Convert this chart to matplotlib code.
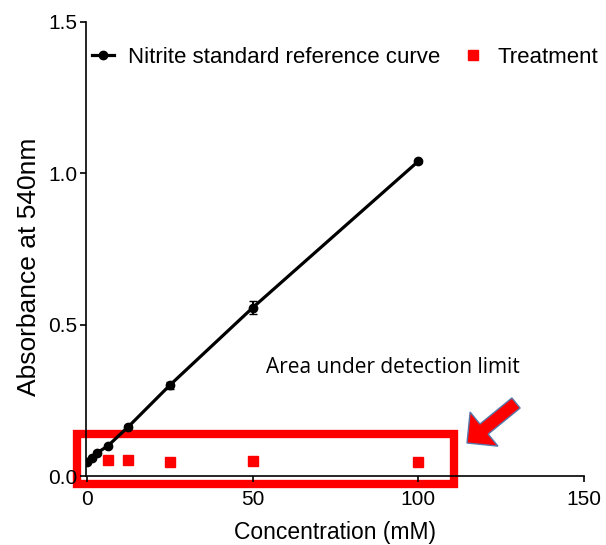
import matplotlib.pyplot as plt
from matplotlib.patches import Rectangle, FancyArrow
from matplotlib.lines import Line2D
from matplotlib.transforms import IdentityTransform

plt.rcParams['font.family'] = ['Liberation Sans', 'DejaVu Sans']

# nitrite standard curve
conc = [0, 1.56, 3.125, 6.25, 12.5, 25, 50, 100]
absorb = [0.047, 0.060, 0.077, 0.099, 0.163, 0.300, 0.556, 1.040]
err = [0.003, 0.003, 0.003, 0.004, 0.005, 0.012, 0.022, 0.005]
# treatment samples
treat_conc = [6.25, 12.5, 25, 50, 100]
treat_abs = [0.053, 0.053, 0.047, 0.050, 0.047]

fig = plt.figure(figsize=(6.06, 5.45), dpi=100)
ax = fig.add_axes([86/606, 69/545, 498/606, 454/545])

ax.errorbar(conc, absorb, yerr=err, color='k', lw=2.3, marker='o', ms=6,
            capsize=3, elinewidth=1.5)
ax.plot(treat_conc, treat_abs, 's', color='#ff0000', ms=7.5, ls='none')

ax.set_xlim(-0.3, 150)
ax.set_ylim(0, 1.5)
ax.set_xticks([0, 50, 100, 150])
ax.set_yticks([0, 0.5, 1.0, 1.5])
ax.set_yticklabels(['0.0', '0.5', '1.0', '1.5'])
ax.tick_params(labelsize=15, length=4, width=1.2)
ax.tick_params(axis='x', pad=6)
ax.tick_params(axis='y', pad=2)
for s in ['top', 'right']:
    ax.spines[s].set_visible(False)
for s in ['left', 'bottom']:
    ax.spines[s].set_linewidth(1.2)
ax.set_xlabel('Concentration (mM)', fontsize=16.5, labelpad=9)
ax.set_ylabel('Absorbance at 540nm', fontsize=19)
ax.yaxis.set_label_coords(-0.09, 0.46)

# detection-limit box and arrow
rect = Rectangle((-3, -0.026), 113.8, 0.165, fill=False, ec='#ff0000', lw=6, clip_on=False)
ax.add_patch(rect)
ax.text(54, 0.34, 'Area under detection limit', fontsize=15, family=['Open Sans', 'DejaVu Sans'])
arr = FancyArrow(516, 545 - 403, -49, -40, width=13, head_width=44, head_length=22,
                 length_includes_head=True, fc='#ff0000', ec='#5577aa', lw=1,
                 transform=IdentityTransform())
fig.add_artist(arr)

handles = [Line2D([], [], color='k', lw=2.3, marker='o', ms=6),
           Line2D([], [], color='#ff0000', marker='s', ms=7.5, ls='none')]
ax.legend(handles, ['Nitrite standard reference curve', 'Treatment'],
          loc='upper left', bbox_to_anchor=(-0.028, 0.99), ncol=2, frameon=False,
          fontsize=16, handlelength=1.0, columnspacing=1.0, handletextpad=0.6)

fig.savefig('out.png', dpi=100)
